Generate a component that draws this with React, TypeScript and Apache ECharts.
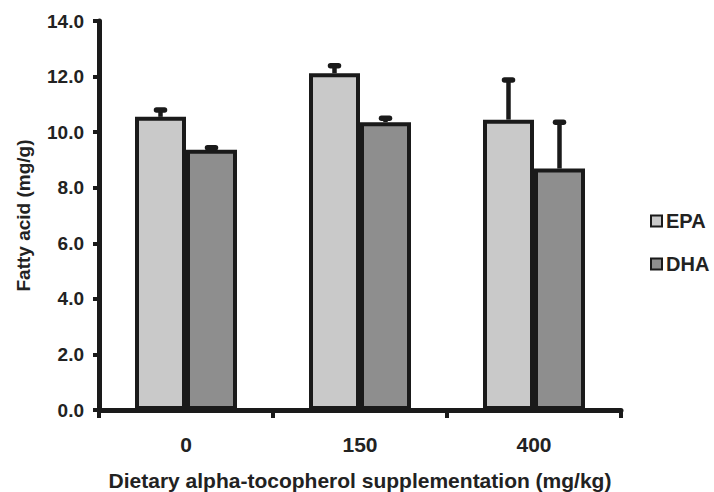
import React, { useEffect, useRef } from "react";
import * as echarts from "echarts";

const categories = ["0", "150", "400"];
const epaValues = [10.55, 12.12, 10.45];
const epaErrors = [0.25, 0.27, 1.43];
const dhaValues = [9.37, 10.36, 8.69];
const dhaErrors = [0.07, 0.14, 1.67];
const yTicks = { min: 0, max: 14, interval: 2 };

const FONT = "'Liberation Sans', Arial, sans-serif";
const TEXT = "#222222";
const LINE = "#1a1a1a";
const BAR_W = 51;

function errorSeries(name: string, values: number[], errors: number[], side: number) {
  return {
    name: name + "-err",
    type: "custom",
    z: 5,
    silent: true,
    data: values.map((v, i) => [i, v, errors[i]]),
    encode: { x: 0, y: 1 },
    renderItem: (params: any, api: any) => {
      const i = api.value(0);
      const v = api.value(1);
      const e = api.value(2);
      const base = api.coord([i, v]);
      const top = api.coord([i, v + e]);
      const x = base[0] + side * (BAR_W / 2);
      return {
        type: "group",
        children: [
          {
            type: "line",
            shape: { x1: x, y1: base[1], x2: x, y2: top[1] },
            style: { stroke: LINE, lineWidth: 4.5 },
          },
          {
            type: "line",
            shape: { x1: x - 4, y1: top[1], x2: x + 4, y2: top[1] },
            style: { stroke: LINE, lineWidth: 5.5, lineCap: "round" },
          },
        ],
      };
    },
  };
}

export default function App() {
  const ref = useRef<HTMLDivElement>(null);
  useEffect(() => {
    if (!ref.current) return;
    const chart = echarts.init(ref.current, undefined, { renderer: "svg" });
    chart.setOption({
      animation: false,
      backgroundColor: "#ffffff",
      grid: { left: 99, right: 93, top: 21, bottom: 82, containLabel: false, outerBoundsMode: "none" },
      legend: {
        orient: "vertical",
        left: 650,
        top: 211,
        padding: 0,
        itemGap: 23,
        itemWidth: 11,
        itemHeight: 11,
        icon: "rect",
        data: ["EPA", "DHA"],
        textStyle: { fontFamily: FONT, fontWeight: "bold", fontSize: 20, color: TEXT, padding: [0, 0, 0, -1] },
      },
      xAxis: {
        type: "category",
        data: categories,
        boundaryGap: true,
        name: "Dietary alpha-tocopherol supplementation (mg/kg)",
        nameLocation: "middle",
        nameGap: 60,
        nameTextStyle: { fontFamily: FONT, fontWeight: "bold", fontSize: 21, color: TEXT },
        axisLine: { lineStyle: { color: LINE, width: 5 } },
        axisTick: { show: true, alignWithLabel: false, length: 8, lineStyle: { color: LINE, width: 4 } },
        axisLabel: { fontFamily: FONT, fontWeight: "bold", fontSize: 21, color: TEXT, margin: 24 },
      },
      yAxis: {
        type: "value",
        min: yTicks.min,
        max: yTicks.max,
        interval: yTicks.interval,
        name: "Fatty acid (mg/g)",
        nameLocation: "middle",
        nameGap: 66,
        nameTextStyle: { fontFamily: FONT, fontWeight: "bold", fontSize: 19, color: TEXT },
        splitLine: { show: false },
        axisLine: { show: true, lineStyle: { color: LINE, width: 5 } },
        axisTick: { show: true, length: 6, lineStyle: { color: LINE, width: 4 } },
        axisLabel: {
          fontFamily: FONT,
          fontWeight: "bold",
          fontSize: 19,
          color: TEXT,
          margin: 15,
          formatter: (v: number) => v.toFixed(1),
        },
      },
      series: [
        {
          name: "EPA",
          type: "bar",
          data: epaValues,
          barWidth: BAR_W,
          barGap: "0%",
          itemStyle: { color: "#c9c9c9", borderColor: LINE, borderWidth: 4 },
        },
        {
          name: "DHA",
          type: "bar",
          data: dhaValues,
          barWidth: BAR_W,
          barGap: "0%",
          itemStyle: { color: "#8e8e8e", borderColor: LINE, borderWidth: 4 },
        },
        errorSeries("EPA", epaValues, epaErrors, -1),
        errorSeries("DHA", dhaValues, dhaErrors, 1),
      ],
    });
    return () => chart.dispose();
  }, []);
  return <div ref={ref} style={{ width: 714, height: 492, position: "absolute", left: 0, top: 0 }} />;
}
